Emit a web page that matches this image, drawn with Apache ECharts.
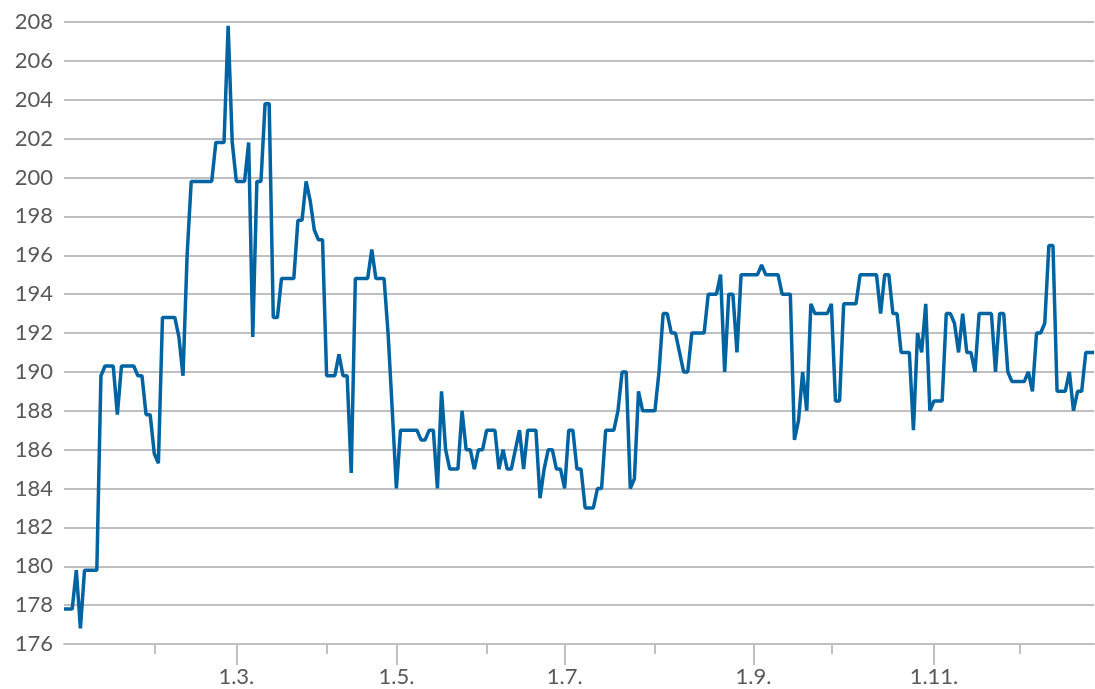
<!DOCTYPE html>
<html lang="en">
<head>
    <meta charset="UTF-8">
    <title>price chart</title>
    <script src="https://cdn.jsdelivr.net/npm/echarts@6.0.0/dist/echarts.min.js"></script>
    <style>
        html, body { margin: 0; padding: 0; background: #fff; }
    </style>
</head>
<body>
<div id="main" style="width: 1095px;height:689px;"></div>

<script type="text/javascript">
    // number of observations in each month (Jan..Dec)
    var monthCounts = [22, 20, 22, 17, 22, 19, 22, 24, 19, 25, 21, 19];
    // months whose first observation gets a labelled (long) tick
    var labelMonths = [3, 5, 7, 9, 11];

    var prices = [
        177.8, 177.8, 177.8, 179.8, 176.8, 179.8, 179.8, 179.8, 179.8, 189.8,
        190.3, 190.3, 190.3, 187.8, 190.3, 190.3, 190.3, 190.3, 189.8, 189.8,
        187.8, 187.8, 185.8, 185.3, 192.8, 192.8, 192.8, 192.8, 191.8, 189.8,
        196.0, 199.8, 199.8, 199.8, 199.8, 199.8, 199.8, 201.8, 201.8, 201.8,
        207.8, 201.8, 199.8, 199.8, 199.8, 201.8, 191.8, 199.8, 199.8, 203.8,
        203.8, 192.8, 192.8, 194.8, 194.8, 194.8, 194.8, 197.8, 197.8, 199.8,
        198.8, 197.3, 196.8, 196.8, 189.8, 189.8, 189.8, 190.9, 189.8, 189.8,
        184.8, 194.8, 194.8, 194.8, 194.8, 196.3, 194.8, 194.8, 194.8, 191.9,
        188, 184, 187, 187, 187, 187, 187, 186.5, 186.5, 187,
        187, 184, 189, 186, 185, 185, 185, 188, 186, 186,
        185, 186, 186, 187, 187, 187, 185, 186, 185, 185,
        186, 187, 185, 187, 187, 187, 183.5, 185, 186, 186,
        185, 185, 184, 187, 187, 185, 185, 183, 183, 183,
        184, 184, 187, 187, 187, 188, 190, 190, 184, 184.5,
        189, 188, 188, 188, 188, 190, 193, 193, 192, 192,
        191, 190, 190, 192, 192, 192, 192, 194, 194, 194,
        195, 190, 194, 194, 191, 195, 195, 195, 195, 195,
        195.5, 195, 195, 195, 195, 194, 194, 194, 186.5, 187.5,
        190, 188, 193.5, 193, 193, 193, 193, 193.5, 188.5, 188.5,
        193.5, 193.5, 193.5, 193.5, 195, 195, 195, 195, 195, 193,
        195, 195, 193, 193, 191, 191, 191, 187, 192, 191,
        193.5, 188, 188.5, 188.5, 188.5, 193, 193, 192.5, 191, 193,
        191, 191, 190, 193, 193, 193, 193, 190, 193, 193,
        190, 189.5, 189.5, 189.5, 189.5, 190, 189, 192, 192, 192.5,
        196.5, 196.5, 189, 189, 189, 190, 188, 189, 189, 191,
        191, 191
    ];

    var yMin = 176, yMax = 208, yStep = 2;

    // categories: first observation of a month is named "1.m."
    var categories = [];
    var monthOf = [];
    var isFirst = [];
    monthCounts.forEach(function (n, m) {
        for (var k = 0; k < n; k++) {
            categories.push(k === 0 ? '1.' + (m + 1) + '.' : (m + 1) + '/' + (k + 1));
            monthOf.push(m + 1);
            isFirst.push(k === 0);
        }
    });

    function longTick(i) {
        return isFirst[i] && labelMonths.indexOf(monthOf[i]) >= 0;
    }
    function shortTick(i) {
        return isFirst[i] && monthOf[i] > 1 && labelMonths.indexOf(monthOf[i]) < 0;
    }

    var gray = '#c0c0c4';
    var textColor = '#595959';
    var font = 'Lato';

    var myChart = echarts.init(document.getElementById('main'));

    var option = {
        animation: false,
        grid: { left: 64, right: 1, top: 22, bottom: 45 },
        xAxis: [{
            type: 'category',
            data: categories,
            boundaryGap: false,
            axisLine: { lineStyle: { color: gray, width: 2 } },
            axisTick: {
                interval: function (i) { return longTick(i); },
                length: 21,
                lineStyle: { color: gray, width: 2 }
            },
            axisLabel: {
                interval: function (i) { return longTick(i); },
                margin: 22,
                color: textColor,
                fontSize: 22,
                fontFamily: font
            },
            splitLine: { show: false }
        }, {
            type: 'category',
            data: categories,
            position: 'bottom',
            boundaryGap: false,
            axisLine: { show: false },
            axisTick: {
                interval: function (i) { return shortTick(i); },
                length: 10,
                lineStyle: { color: gray, width: 2 }
            },
            axisLabel: { show: false },
            splitLine: { show: false }
        }],
        yAxis: {
            type: 'value',
            min: yMin,
            max: yMax,
            interval: yStep,
            axisLine: { show: false },
            axisTick: { show: false },
            axisLabel: {
                margin: 11,
                color: textColor,
                fontSize: 22,
                fontFamily: font
            },
            splitLine: { lineStyle: { color: gray, width: 2 } }
        },
        series: [{
            type: 'line',
            data: prices,
            xAxisIndex: 0,
            showSymbol: false,
            symbol: 'none',
            lineStyle: { color: '#0063a2', width: 3.5 },
            z: 3
        }]
    };

    myChart.setOption(option);
</script>

</body>
</html>
